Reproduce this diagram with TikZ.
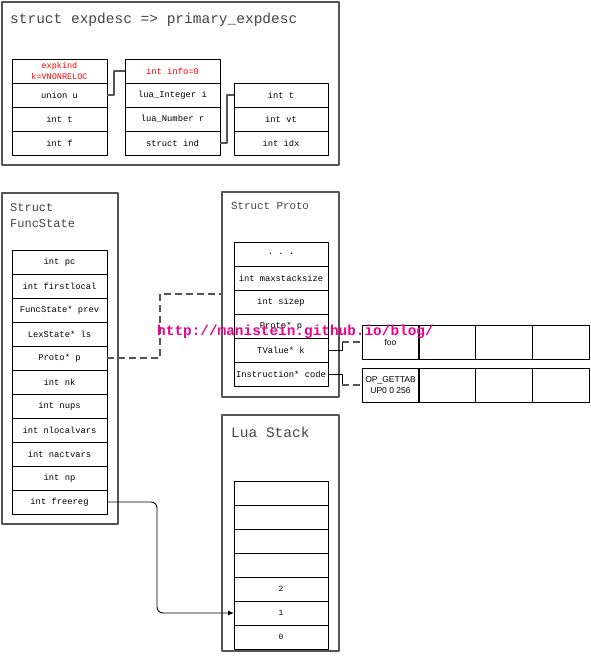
\documentclass[tikz,border=0pt]{standalone}
\usepackage{fontspec}
\setmainfont{Liberation Serif}
\setsansfont{Liberation Sans}
\setmonofont{Liberation Mono}
\usetikzlibrary{positioning,arrows.meta}

\definecolor{framegray}{HTML}{555555}
\definecolor{titlegray}{HTML}{444444}
\tikzset{
	cell/.style={draw=black, line width=0.8pt, minimum width=95pt, minimum height=24pt, inner sep=0pt, outer sep=0pt, align=center, font=\fontsize{8.8}{10}\ttfamily},
	slot/.style={draw=black, line width=0.8pt, minimum width=57pt, minimum height=34pt, inner sep=0pt, outer sep=0pt, align=center, font=\fontsize{8.5}{11}\sffamily},
	frame/.style={draw=framegray, line width=1.2pt, anchor=north west, inner sep=0pt, outer sep=0pt},
	heading/.style={anchor=base west, inner sep=0pt, text=titlegray},
	link/.style={draw=framegray, line width=1.2pt},
	dashlink/.style={draw=framegray, line width=1.2pt, dash pattern=on 7pt off 4pt},
}

\begin{document}
\begin{tikzpicture}[x=1pt, y=-1pt, >={Latex[length=6pt,width=5pt]}, line join=round]
	\useasboundingbox (0,0) rectangle (590,662);
	
	% struct expdesc
	\node[frame, minimum width=337pt, minimum height=163pt] (expbox) at (2,2) {};
	\node[heading, font=\fontsize{14.5}{16}\ttfamily] (exptitle) at (10,23) {struct expdesc => primary\_expdesc};
	\node[cell, minimum height=24pt, text=red, font=\fontsize{8.5}{10.5}\ttfamily] (kind) at (59.5,71) {expkind\\k=VNONRELOC};
	\foreach \lbl [count=\i] in {union u, int t, int f}
		\node[cell] (e\i) at (59.5,{71+24*\i}) {\lbl};
	\node[cell, text=red] (info) at (172.5,71) {int info=0};
	\foreach \lbl [count=\i] in {lua\_Integer i, lua\_Number r, struct ind}
		\node[cell] (u\i) at (172.5,{71+24*\i}) {\lbl};
	\foreach \lbl [count=\i] in {int t, int vt, int idx}
		\node[cell, minimum width=94pt] (x\i) at (281,{71+24*\i}) {\lbl};
	\draw[link] (e1.east) -- ++(7,0) |- (info.west);
	\draw[link] (u3.east) -- ++(7,0) |- (x1.west);
	
	% Struct FuncState
	\node[frame, minimum width=116pt, minimum height=331pt] (fsbox) at (2,193) {};
	\node[heading, font=\fontsize{12}{14}\ttfamily] (fstitle1) at (10,211) {Struct};
	\node[heading, font=\fontsize{12}{14}\ttfamily] (fstitle2) at (10,227) {FuncState};
	\foreach \lbl [count=\i] in {int pc, int firstlocal, FuncState* prev, LexState* ls, Proto* p, int nk, int nups, int nlocalvars, int nactvars, int np, int freereg}
		\node[cell] (fs\i) at (59.5,{238+24*\i}) {\lbl};
	
	% Struct Proto
	\node[frame, minimum width=117pt, minimum height=205pt] (protobox) at (222,192) {};
	\node[heading, font=\fontsize{10.8}{13}\ttfamily] (prototitle) at (231,209) {Struct Proto};
	\node[cell, minimum width=94pt] (pr1) at (281,254) {. . .};
	\foreach \lbl [count=\i from 2] in {int maxstacksize, int sizep, Proto* p, TValue* k, Instruction* code}
		\node[cell, minimum width=94pt] (pr\i) at (281,{230+24*\i}) {\lbl};
	\coordinate (protoin) at (222,294);
	\draw[dashlink] (fs5.east) -- ++(53,0) |- (protoin);
	
	% k and code arrays
	\node[slot] (k1) at (390.5,342) {foo};
	\node[slot] (c1) at (390.5,385) {OP\_GETTAB\\UP0 0 256};
	\foreach \i in {2,3,4}{
		\node[slot] (k\i) at ({390.5+56.75*(\i-1)},342) {};
		\node[slot] (c\i) at ({390.5+56.75*(\i-1)},385) {};
	}
	\draw[line width=0.8pt] (pr5.east) -- ++(14,0) coordinate (kbend) -- (kbend |- k1.west);
	\draw[dashlink] (kbend |- k1.west) -- (k1.west);
	\draw[line width=0.8pt] (pr6.east) -- ++(14,0) coordinate (cbend) -- (cbend |- c1.west);
	\draw[dashlink] (cbend |- c1.west) -- (c1.west);
	
	% Lua Stack
	\node[frame, minimum width=117pt, minimum height=236pt] (stackbox) at (222,415) {};
	\node[heading, font=\fontsize{14.5}{16}\ttfamily] (stacktitle) at (231,437) {Lua Stack};
	\foreach \lbl [count=\i] in {{}, {}, {}, {}, 2, 1, 0}
		\node[cell, minimum width=94pt, font=\fontsize{8}{10}\ttfamily] (st\i) at (281,{469+24*\i}) {\lbl};
	\draw[->, line width=0.9pt, rounded corners=6pt] (fs11.east) -- ++(50,0) |- (st6.west);
	
	\node[text=magenta, font=\fontsize{14.4}{16}\ttfamily\bfseries, anchor=base, inner sep=0pt] (mark) at (295.5,335) {http://manistein.github.io/blog/};
\end{tikzpicture}
\end{document}
